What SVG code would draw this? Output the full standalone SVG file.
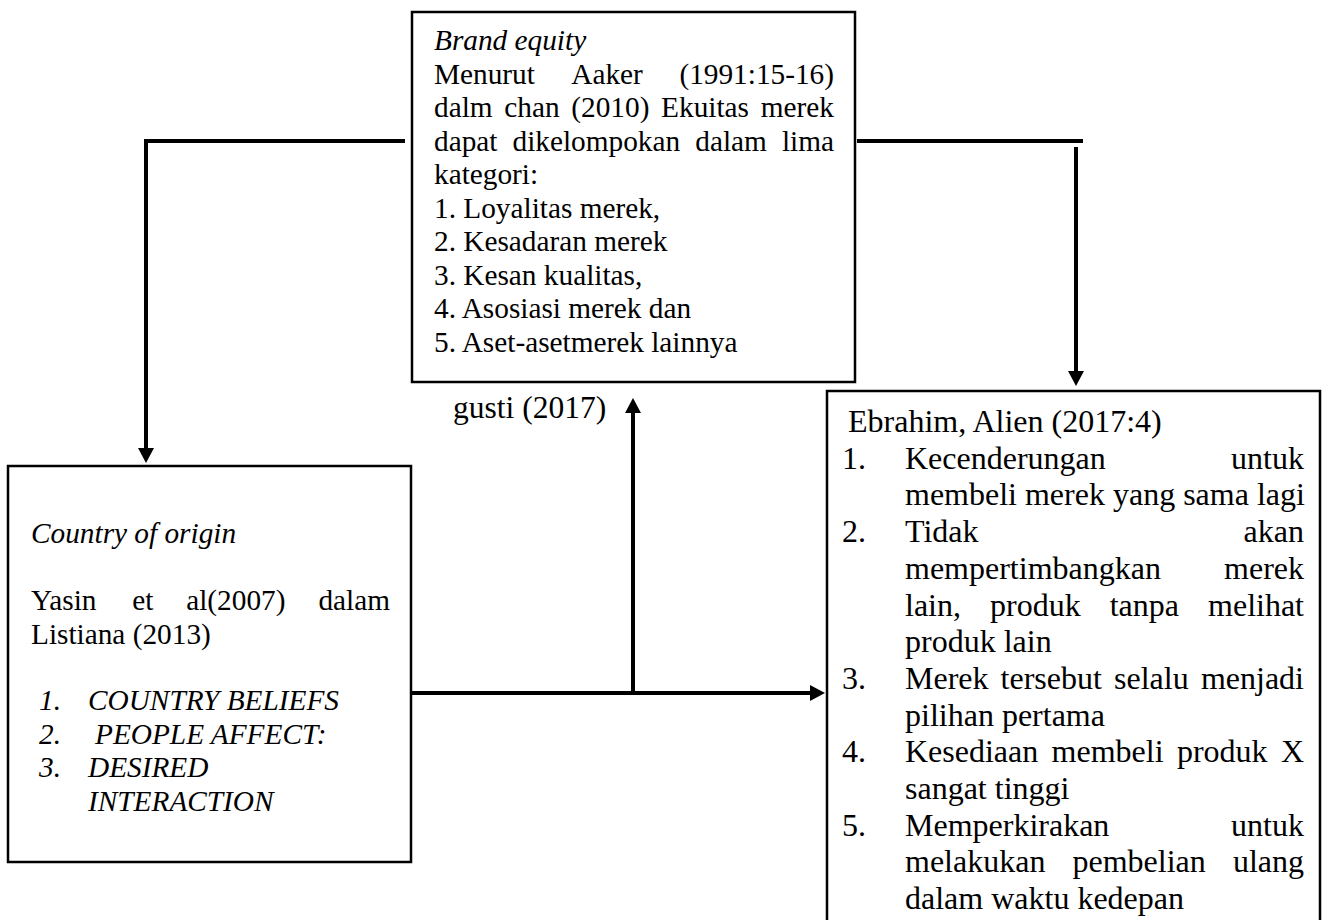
<svg xmlns="http://www.w3.org/2000/svg" width="1331" height="920" viewBox="0 0 1331 920">
<defs>
<style>
text{font-family:"Liberation Serif","Times New Roman",serif;fill:#000}
.s{font-size:29.3px}
.m{font-size:32px}
.g{font-size:31.5px}
.i{font-style:italic}
.e{text-anchor:end}
.box{fill:#fff;stroke:#000;stroke-width:2.5}
.conn{fill:none;stroke:#000;stroke-width:4}
</style>
<marker id="arr" markerUnits="userSpaceOnUse" markerWidth="16" markerHeight="16" refX="0" refY="8" orient="auto">
<path d="M0,0 L15,8 L0,16 z" fill="#000"/>
</marker>
</defs>
<rect width="1331" height="920" fill="#fff"/>

<g id="connectors">
<path class="conn" d="M405,141 H146 V448" marker-end="url(#arr)"/>
<path class="conn" d="M857,141 H1083"/>
<path class="conn" d="M1076,147 V371" marker-end="url(#arr)"/>
<path class="conn" d="M403,693 H810" marker-end="url(#arr)"/>
<path class="conn" d="M633,695 V413" marker-end="url(#arr)"/>
</g>

<g id="brand-equity">
<rect class="box" x="412" y="12" width="443" height="370"/>
<text class="s i" x="434" y="50">Brand equity</text>
<text class="s" x="434" y="83.5">Menurut</text>
<text class="s" x="571.3" y="83.5">Aaker</text>
<text class="s e" x="834" y="83.5">(1991:15-16)</text>
<text class="s" x="434" y="117">dalm</text>
<text class="s" x="504.3" y="117">chan</text>
<text class="s" x="571.3" y="117">(2010)</text>
<text class="s" x="661.1" y="117">Ekuitas</text>
<text class="s e" x="834" y="117">merek</text>
<text class="s" x="434" y="150.5">dapat</text>
<text class="s" x="512.5" y="150.5">dikelompokan</text>
<text class="s" x="695.3" y="150.5">dalam</text>
<text class="s e" x="834" y="150.5">lima</text>
<text class="s" x="434" y="184">kategori:</text>
<text class="s" x="434" y="217.5">1. Loyalitas merek,</text>
<text class="s" x="434" y="251">2. Kesadaran merek</text>
<text class="s" x="434" y="284.5">3. Kesan kualitas,</text>
<text class="s" x="434" y="318">4. Asosiasi merek dan</text>
<text class="s" x="434" y="351.5">5. Aset-asetmerek lainnya</text>
</g>

<g id="gusti-label">
<text class="g" x="453" y="418">gusti (2017)</text>
</g>

<g id="country-of-origin">
<rect class="box" x="8" y="466" width="403" height="396"/>
<text class="s i" x="31" y="543">Country of origin</text>
<text class="s" x="31" y="610">Yasin</text>
<text class="s" x="132.2" y="610">et</text>
<text class="s" x="186.2" y="610">al(2007)</text>
<text class="s e" x="390" y="610">dalam</text>
<text class="s" x="31" y="643.5">Listiana (2013)</text>
<text class="s i" x="39" y="710">1.</text>
<text class="s i" x="88" y="710">COUNTRY BELIEFS</text>
<text class="s i" x="39" y="743.5">2.</text>
<text class="s i" x="95" y="743.5">PEOPLE AFFECT:</text>
<text class="s i" x="39" y="777">3.</text>
<text class="s i" x="88" y="777">DESIRED</text>
<text class="s i" x="88" y="810.5">INTERACTION</text>
</g>

<g id="ebrahim">
<rect class="box" x="827" y="391" width="493" height="560"/>
<text class="m" x="848" y="432">Ebrahim, Alien (2017:4)</text>
<text class="m" x="842" y="468.7">1.</text>
<text class="m" x="905" y="468.7">Kecenderungan</text>
<text class="m e" x="1304" y="468.7">untuk</text>
<text class="m" x="905" y="505.4">membeli merek yang sama lagi</text>
<text class="m" x="842" y="542.1">2.</text>
<text class="m" x="905" y="542.1">Tidak</text>
<text class="m e" x="1304" y="542.1">akan</text>
<text class="m" x="905" y="578.8">mempertimbangkan</text>
<text class="m e" x="1304" y="578.8">merek</text>
<text class="m" x="905" y="615.5">lain,</text>
<text class="m" x="990" y="615.5">produk</text>
<text class="m" x="1109.7" y="615.5">tanpa</text>
<text class="m e" x="1304" y="615.5">melihat</text>
<text class="m" x="905" y="652.2">produk lain</text>
<text class="m" x="842" y="688.9">3.</text>
<text class="m" x="905" y="688.9">Merek</text>
<text class="m" x="1000.6" y="688.9">tersebut</text>
<text class="m" x="1114" y="688.9">selalu</text>
<text class="m e" x="1304" y="688.9">menjadi</text>
<text class="m" x="905" y="725.6">pilihan pertama</text>
<text class="m" x="842" y="762.3">4.</text>
<text class="m" x="905" y="762.3">Kesediaan</text>
<text class="m" x="1051.6" y="762.3">membeli</text>
<text class="m" x="1176.9" y="762.3">produk</text>
<text class="m e" x="1304" y="762.3">X</text>
<text class="m" x="905" y="799">sangat tinggi</text>
<text class="m" x="842" y="835.7">5.</text>
<text class="m" x="905" y="835.7">Memperkirakan</text>
<text class="m e" x="1304" y="835.7">untuk</text>
<text class="m" x="905" y="872.4">melakukan</text>
<text class="m" x="1072.5" y="872.4">pembelian</text>
<text class="m e" x="1304" y="872.4">ulang</text>
<text class="m" x="905" y="909.1">dalam waktu kedepan</text>
</g>
</svg>
